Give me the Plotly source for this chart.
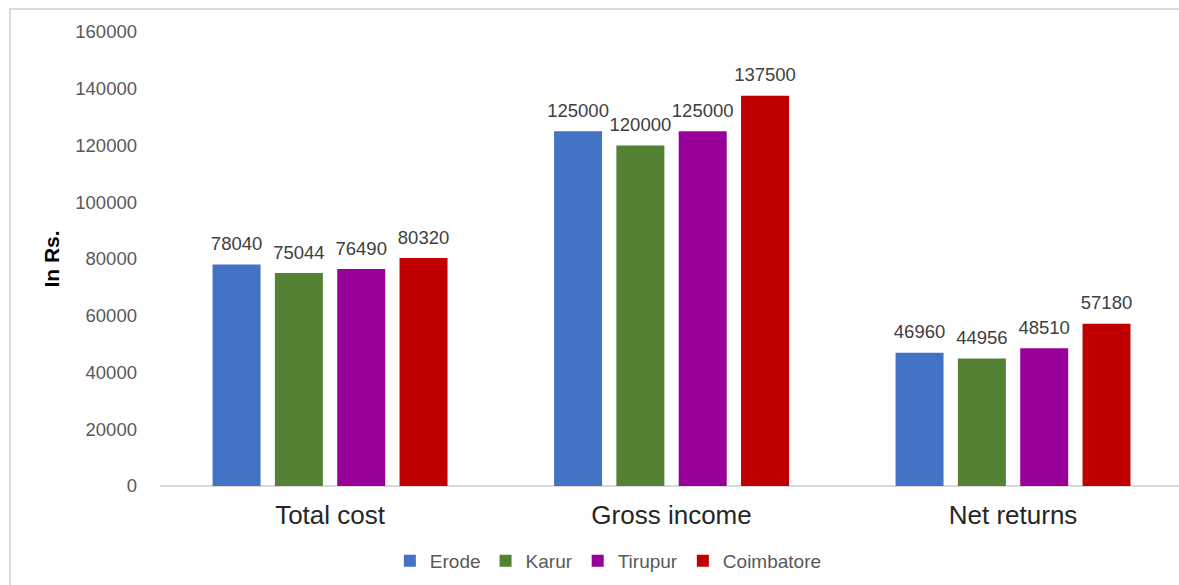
import plotly.graph_objects as go

categories = ["Total cost", "Gross income", "Net returns"]
districts = ["Erode", "Karur", "Tirupur", "Coimbatore"]
erode = [78040, 125000, 46960]
karur = [75044, 120000, 44956]
tirupur = [76490, 125000, 48510]
coimbatore = [80320, 137500, 57180]
colors = ["#4472C4", "#548235", "#990099", "#C00000"]
y_ticks = [0, 20000, 40000, 60000, 80000, 100000, 120000, 140000, 160000]

series = [erode, karur, tirupur, coimbatore]

fig = go.Figure()
for name, vals, col in zip(districts, series, colors):
    fig.add_trace(go.Bar(
        name=name, x=categories, y=vals,
        marker=dict(color=col, line=dict(width=0)),
    ))
# data labels: grouped scatter text traces aligned with the bar slots
for name, vals in zip(districts, series):
    fig.add_trace(go.Scatter(
        x=categories, y=vals, mode="markers+text", showlegend=False,
        marker=dict(size=14, opacity=0),
        text=[str(v) for v in vals], textposition="top center",
        textfont=dict(family="Liberation Sans, Arial", size=18.5, color="#404040"),
        cliponaxis=False, hoverinfo="skip",
    ))

fig.update_layout(
    barmode="group", bargap=0.27, bargroupgap=0.23,
    scattermode="group", scattergap=0.27,
    width=1179, height=585,
    margin=dict(l=160, r=0, t=32, b=99),
    paper_bgcolor="white", plot_bgcolor="white",
    font=dict(family="Liberation Sans, Arial", color="#595959"),
    xaxis=dict(range=[-0.498, 2.486], showgrid=False, showline=False,
               tickfont=dict(size=26, color="#262626"), ticks="", ticklabelstandoff=11),
    yaxis=dict(range=[0, 160000], tickvals=y_ticks, ticktext=[str(t) for t in y_ticks],
               showgrid=False, zeroline=True, zerolinecolor="#D9D9D9", zerolinewidth=1.5,
               showline=False, tickfont=dict(size=18.5, color="#595959"), ticks="",
               ticklabelstandoff=22,
               title=dict(text="<b>In Rs.</b>", font=dict(size=21, color="#000000"), standoff=9)),
    legend=dict(orientation="h", x=0.44, xanchor="center", y=-0.165, yanchor="middle",
                font=dict(size=19, color="#595959"), itemwidth=30, traceorder="normal"),
    showlegend=True,
)
fig.add_shape(type="rect", xref="paper", yref="paper",
              x0=-0.1472, x1=1.1, y0=-0.35, y1=1.0507,
              line=dict(color="#D9D9D9", width=2), fillcolor="rgba(0,0,0,0)", layer="below")

fig.write_html("out.html", config={"displayModeBar": False},
               post_script="document.body.style.margin='0';document.body.style.overflow='hidden';")
